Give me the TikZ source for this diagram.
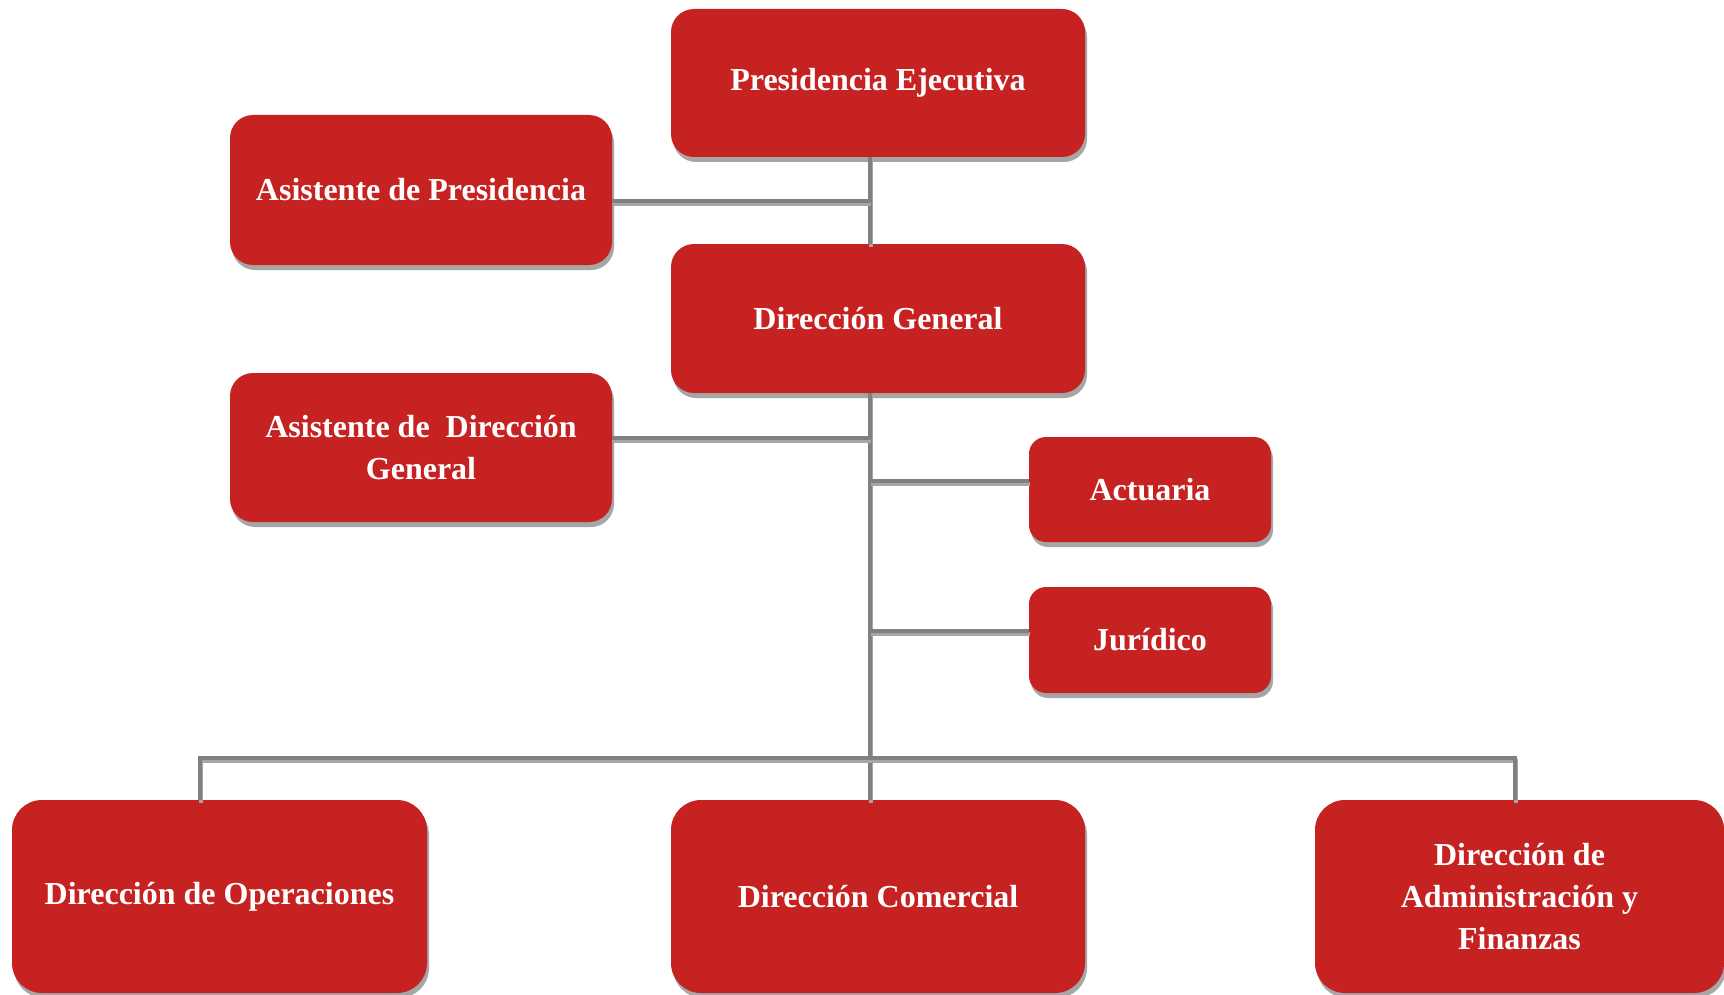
\documentclass[tikz,border=0pt]{standalone}
\usepackage{fontspec}
\setmainfont{Liberation Serif}
\usetikzlibrary{shadows,calc}
\definecolor{boxred}{RGB}{198,34,34}
\definecolor{linegray}{RGB}{128,128,128}
\definecolor{shadegray}{RGB}{166,166,166}
\begin{document}
\begin{tikzpicture}[x=0.5pt,y=-0.5pt,
  unitbox/.style={draw=none, fill=boxred, text=white,
    font=\bfseries\fontsize{16}{21}\selectfont, align=center, inner sep=0pt,
    drop shadow={shadow xshift=1pt, shadow yshift=-2.5pt, opacity=1, fill=shadegray}},
  link/.style={draw=linegray, line width=2.4pt,
    preaction={draw=shadegray, line width=2.4pt,
      transform canvas={xshift=0.5pt,yshift=-1.5pt}}}]
  % page frame
  \useasboundingbox[fill=white] (0,0) rectangle (1724,995);

  % boxes
  \node[unitbox, minimum width=207pt, minimum height=74pt, rounded corners=11.5pt]
    (pres) at (878,83) {Presidencia Ejecutiva};
  \node[unitbox, minimum width=191pt, minimum height=75pt, rounded corners=11.5pt]
    (asp) at (421,190) {Asistente de Presidencia};
  \node[unitbox, minimum width=207pt, minimum height=74.5pt, rounded corners=11.5pt]
    (dg) at (878,318.5) {Dirección General};
  \node[unitbox, minimum width=191pt, minimum height=74.5pt, rounded corners=11.5pt]
    (asdg) at (421,447.5) {Asistente de\ \ Dirección\\General};
  \node[unitbox, minimum width=121pt, minimum height=52.5pt, rounded corners=8.5pt]
    (act) at (1150,489.5) {Actuaria};
  \node[unitbox, minimum width=121pt, minimum height=53pt, rounded corners=8.5pt]
    (jur) at (1150,640) {Jurídico};
  \node[unitbox, minimum width=207.5pt, minimum height=96.5pt, rounded corners=15pt]
    (ope) at (219.5,896.5) {Dirección de Operaciones};
  \node[unitbox, minimum width=207pt, minimum height=96.5pt, rounded corners=15pt]
    (com) at (878,896.5) {Dirección Comercial};
  \node[unitbox, minimum width=204.5pt, minimum height=96.5pt, rounded corners=15pt]
    (adm) at (1519.5,896.5) {Dirección de\\Administración y\\Finanzas};

  % trunk and branch points
  \coordinate (tk) at (870,0);
  \coordinate (bl) at (200,758);
  \coordinate (br) at (1515,758);
  \coordinate (aspC) at ($(asp.east)+(0,11)$);
  \coordinate (asdgC) at ($(asdg.east)+(0,-9.5)$);
  \coordinate (actC) at ($(act.west)+(0,-8.5)$);
  \coordinate (jurC) at ($(jur.west)+(0,-9)$);

  % connectors
  \draw[link] (pres.south -| tk) -- (dg.north -| tk);
  \draw[link] (aspC) -- (aspC -| tk);
  \draw[link] (dg.south -| tk) -- (com.north -| tk);
  \draw[link] (asdgC) -- (asdgC -| tk);
  \draw[link] (actC -| tk) -- (actC);
  \draw[link] (jurC -| tk) -- (jurC);
  \draw[link] (ope.north -| bl) -- (bl) -- (br) -- (adm.north -| br);
\end{tikzpicture}
\end{document}
